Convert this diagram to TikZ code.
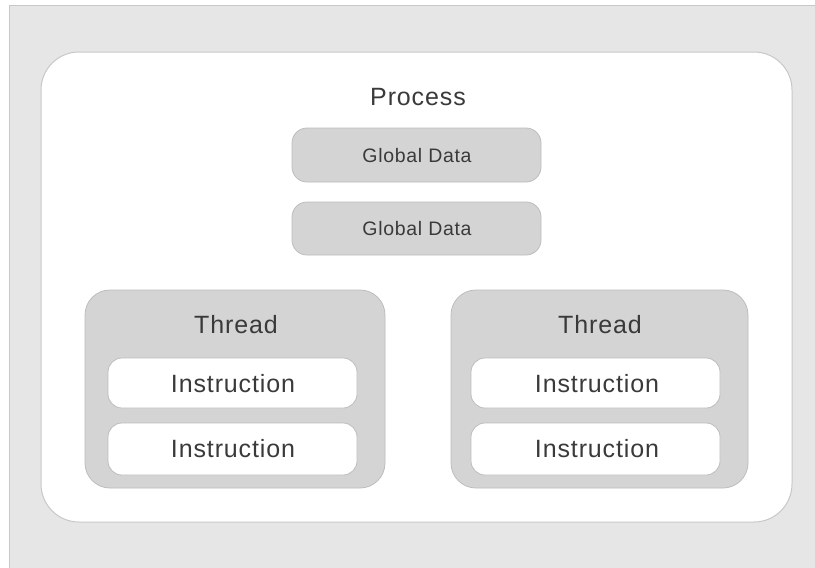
\documentclass[tikz,border=0pt]{standalone}
\usepackage{fontspec}
\setmainfont{Liberation Sans}
\newfontfamily\widefont[LetterSpace=3.5]{Liberation Sans}
\definecolor{bgout}{HTML}{E6E6E6}
\definecolor{bgline}{HTML}{C8C8C8}
\definecolor{boxfill}{HTML}{D4D4D4}
\definecolor{boxline}{HTML}{BDBDBD}
\definecolor{txt}{HTML}{3A3A3A}
\tikzset{
  px/.style={x=1pt,y=-1pt},
  outerbox/.style={fill=bgout},
  outerline/.style={draw=bgline,line width=1.5pt},
  processbox/.style={draw=bgline,fill=white,line width=1pt,rounded corners=38pt},
  graybox/.style={draw=boxline,fill=boxfill,line width=0.8pt,rounded corners=15pt},
  threadbox/.style={draw=boxline,fill=boxfill,line width=0.8pt,rounded corners=25pt},
  instrbox/.style={draw=boxline,fill=white,line width=0.8pt,rounded corners=14pt},
  bigtext/.style={text=txt,font=\widefont\fontsize{25}{30}\selectfont,inner sep=0pt},
  smalltext/.style={text=txt,font=\widefont\fontsize{19.5}{24}\selectfont,inner sep=0pt},
}
\begin{document}
\begin{tikzpicture}[px]
\useasboundingbox (0,0) rectangle (815,568);
\fill[white] (0,0) rectangle (815,568);
\fill[outerbox] (9,5) rectangle (815,568);
\draw[outerline] (9.5,568) -- (9.5,5.5) -- (815,5.5);
\draw[processbox] (41,52) rectangle (792,522);
\node[bigtext] (process) at (418,97) {Process};
\draw[graybox] (292,128) rectangle (541,182);
\node[smalltext] (gd1) at (417,156) {Global Data};
\draw[graybox] (292,202) rectangle (541,255);
\node[smalltext] (gd2) at (417,229) {Global Data};
% left thread
\draw[threadbox] (85,290) rectangle (385,488);
\node[bigtext] (t1) at (236,325) {Thread};
\draw[instrbox] (108,358) rectangle (357,408);
\node[bigtext] (i11) at (233,384) {Instruction};
\draw[instrbox] (108,423) rectangle (357,475);
\node[bigtext] (i12) at (233,449) {Instruction};
% right thread
\draw[threadbox] (451,290) rectangle (748,488);
\node[bigtext] (t2) at (600,325) {Thread};
\draw[instrbox] (471,358) rectangle (720,408);
\node[bigtext] (i21) at (597,384) {Instruction};
\draw[instrbox] (471,423) rectangle (720,475);
\node[bigtext] (i22) at (597,449) {Instruction};
\end{tikzpicture}
\end{document}
